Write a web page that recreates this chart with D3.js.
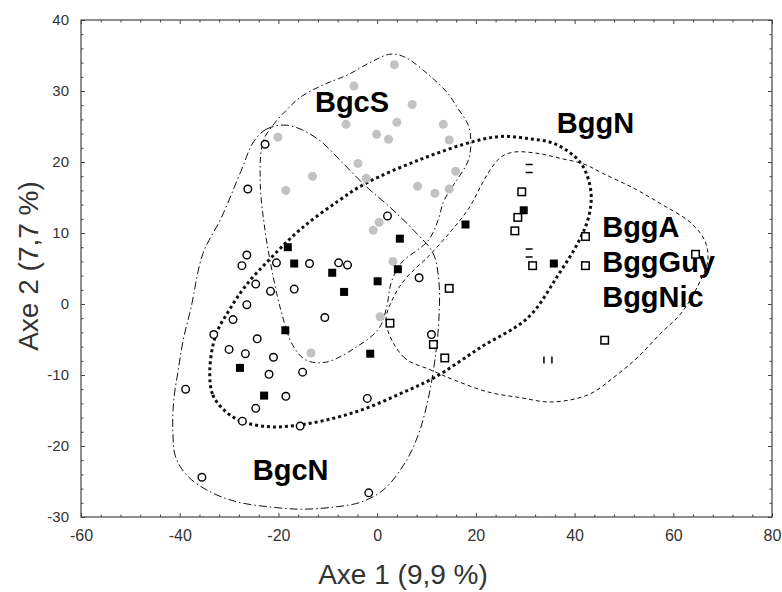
<!DOCTYPE html>
<html>
<head>
<meta charset="utf-8">
<script src="https://cdnjs.cloudflare.com/ajax/libs/d3/7.8.5/d3.min.js"></script>
<style>
  body { margin: 0; background: #fff; }
  text { font-family: "Liberation Sans", Arial, sans-serif; }
</style>
</head>
<body>
<script>
// points, [axe1, axe2]
const bgcN = [
  [-22.7, 22.5], [-26.2, 16.2], [2.1, 12.4], [-26.4, 6.9], [-27.4, 5.4], [-20.4, 5.8],
  [-13.7, 5.7], [-7.8, 5.8], [-6.0, 5.5], [-24.6, 2.8], [-21.6, 1.8], [-16.8, 2.1],
  [-26.4, -0.1], [-29.2, -2.2], [-10.6, -1.9], [-33.1, -4.3], [-24.3, -4.9], [-30.0, -6.4],
  [-26.7, -7.0], [-21.0, -7.5], [-15.1, -9.6], [-21.9, -9.9], [-38.8, -12.0], [-18.5, -13.0],
  [-2.0, -13.3], [-24.6, -14.7], [-27.3, -16.5], [-15.6, -17.2], [-35.5, -24.4], [-1.7, -26.6],
  [8.5, 3.7], [11.0, -4.3]
];
const bgcS = [
  [3.5, 33.7], [-4.7, 30.7], [7.1, 28.1], [4.0, 25.6], [13.4, 25.3], [-6.3, 25.3],
  [-0.1, 23.9], [2.3, 23.2], [14.6, 23.1], [-20.1, 23.5], [-3.9, 19.8], [-2.2, 17.7],
  [15.9, 18.7], [-13.1, 18.0], [-18.5, 16.0], [8.2, 16.6], [11.7, 15.6], [14.6, 16.2],
  [-0.8, 10.4], [0.4, 11.5], [3.2, 6.0], [0.6, -1.8], [-13.4, -6.9]
];
const bggN = [
  [-18.1, 8.0], [4.6, 9.2], [17.9, 11.2], [-16.8, 5.7], [-9.1, 4.4], [-6.7, 1.7],
  [0.1, 3.2], [4.2, 4.9], [-18.6, -3.7], [-1.4, -7.0], [-27.8, -9.0], [-22.9, -12.9],
  [29.7, 13.2], [35.8, 5.7]
];
const bggOpenSq = [
  [29.3, 15.8], [28.5, 12.2], [27.9, 10.3], [42.2, 9.5], [31.5, 5.4], [42.2, 5.4],
  [64.5, 7.0], [14.6, 2.2], [46.1, -5.1], [11.4, -5.7], [13.7, -7.6], [2.6, -2.7]
];
const bggHBars = [[30.8, 19.1], [30.8, 7.2]];
const bggVBars = [[34.6, -7.9]];

// group outlines, vertices
const hullBgcS = [
  [-23.1, 22.9], [-21.1, 25.2], [-18.1, 27.5], [-15.4, 29.2], [-10.8, 30.9], [-5.9, 32.3],
  [-1.2, 34.1], [2.8, 35.2], [5.8, 34.7], [10.9, 32.0], [14.4, 29.6], [16.4, 27.5],
  [18.4, 25.3], [19.0, 22.9], [18.4, 20.1], [15.6, 16.9], [13.5, 14.5], [12.3, 11.7],
  [10.3, 8.9], [4.8, 5.7], [2.8, 2.9], [2.0, -0.2], [0.4, -3.4], [-4.3, -6.1],
  [-10.4, -8.2], [-14.4, -7.9], [-17.1, -5.8], [-19.5, -0.9], [-21.3, 4.7], [-22.7, 10.3],
  [-23.7, 17.3]
];
const hullBgcN = [
  [-25.0, 22.9], [-22.5, 24.6], [-18.9, 25.2], [-15.4, 24.6], [-11.4, 22.9], [-7.3, 20.1],
  [-2.3, 16.6], [2.8, 13.5], [7.5, 10.3], [11.3, 7.2], [12.5, 3.3], [12.5, -2.3],
  [11.7, -7.9], [10.3, -13.5], [8.5, -18.1], [5.8, -22.2], [1.4, -26.1], [-3.3, -27.9],
  [-8.7, -28.6], [-15.4, -28.9], [-21.5, -28.6], [-28.2, -27.9], [-33.7, -26.5], [-38.3, -24.3],
  [-40.8, -21.6], [-41.4, -17.7], [-41.2, -13.5], [-40.3, -9.3], [-39.3, -5.1], [-37.7, -0.5],
  [-35.3, 7.1], [-31.6, 12.1], [-27.6, 18.7]
];
const hullBggA = [
  [1.8, -2.6], [5.4, -7.5], [10.9, -9.3], [15.6, -10.7], [22.5, -12.4], [29.1, -13.2],
  [35.2, -13.8], [42.7, -12.8], [48.0, -10.3], [52.8, -7.5], [57.5, -4.1], [61.6, -1.3],
  [65.0, 2.6], [67.0, 6.1], [66.4, 8.9], [63.6, 11.4], [57.5, 14.1], [52.0, 16.3],
  [46.0, 18.3], [41.9, 19.7], [37.2, 20.5], [32.6, 21.2], [27.7, 21.4], [25.1, 20.7],
  [23.1, 19.1], [21.0, 16.6], [18.6, 13.5], [15.0, 10.3], [10.5, 6.8], [5.8, 3.6],
  [3.2, 0.8]
];
const ellipseBggN = [
  [-33.9, -9.3], [-33.3, -12.8], [-30.6, -15.2], [-27.2, -16.6], [-21.5, -17.3], [-15.4, -17.0],
  [-8.3, -16.0], [-1.9, -14.6], [4.8, -12.6], [11.5, -10.4], [21.0, -6.1], [30.6, -1.9],
  [36.6, 4.0], [40.9, 8.9], [42.9, 12.4], [43.3, 15.9], [41.3, 19.8], [36.2, 22.5],
  [30.6, 23.3], [25.1, 23.6], [19.6, 22.9], [8.9, 20.4], [-2.3, 17.0], [-7.9, 14.5],
  [-15.4, 10.6], [-21.5, 6.5], [-26.6, 2.6], [-30.0, -0.9], [-32.7, -4.4]
];

const groupLabels = [
  { text: "BgcS", at: [-12.6, 27.0] },
  { text: "BggN", at: [36.4, 24.1] },
  { text: "BggA", at: [45.6, 9.4] },
  { text: "BggGuy", at: [45.6, 4.5] },
  { text: "BggNic", at: [45.6, -0.4] },
  { text: "BgcN", at: [-25.2, -24.8] }
];

const xMajor = [-60, -40, -20, 0, 20, 40, 60, 80];
const yMajor = [-30, -20, -10, 0, 10, 20, 30, 40];

const width = 782, height = 592;
const mLeft = 81, mRight = 772, mTop = 20, mBottom = 517;

const x = d3.scaleLinear().domain([-60, 80]).range([mLeft, mRight]);
const y = d3.scaleLinear().domain([-30, 40]).range([mBottom, mTop]);

const svg = d3.select("body").append("svg")
  .attr("width", width).attr("height", height);

// frame with inward ticks on all sides
const xMinor = d3.range(-60, 81, 4).filter(v => !xMajor.includes(v));
const yMinor = d3.range(-30, 41, 2).filter(v => !yMajor.includes(v));
const plain = d => String(d); // hyphen minus, like the original

const axisStyle = g => {
  g.select(".domain").remove();
  g.selectAll("line").attr("stroke", "#444").attr("stroke-width", 1);
  g.selectAll("text").attr("fill", "#333").style("font-size", "15px");
};

svg.append("g").attr("transform", `translate(0,${mBottom})`)
  .call(d3.axisBottom(x).tickValues(xMinor).tickSize(-2.5).tickFormat(""))
  .call(axisStyle);
svg.append("g").attr("transform", `translate(0,${mTop})`)
  .call(d3.axisTop(x).tickValues(xMinor).tickSize(-2.5).tickFormat(""))
  .call(axisStyle);
svg.append("g").attr("transform", `translate(${mLeft},0)`)
  .call(d3.axisLeft(y).tickValues(yMinor).tickSize(-2.5).tickFormat(""))
  .call(axisStyle);
svg.append("g").attr("transform", `translate(${mRight},0)`)
  .call(d3.axisRight(y).tickValues(yMinor).tickSize(-2.5).tickFormat(""))
  .call(axisStyle);

svg.append("g").attr("transform", `translate(0,${mBottom})`)
  .call(d3.axisBottom(x).tickValues(xMajor).tickSize(-4).tickPadding(13).tickFormat(plain))
  .call(axisStyle)
  .call(g => g.selectAll("text").style("font-size", "16px"));
svg.append("g").attr("transform", `translate(0,${mTop})`)
  .call(d3.axisTop(x).tickValues(xMajor).tickSize(-4).tickFormat(""))
  .call(axisStyle);
svg.append("g").attr("transform", `translate(${mLeft},0)`)
  .call(d3.axisLeft(y).tickValues(yMajor).tickSize(-4).tickPadding(12).tickFormat(plain))
  .call(axisStyle);
svg.append("g").attr("transform", `translate(${mRight},0)`)
  .call(d3.axisRight(y).tickValues(yMajor).tickSize(-4).tickFormat(""))
  .call(axisStyle);

svg.append("rect")
  .attr("x", mLeft).attr("y", mTop)
  .attr("width", mRight - mLeft).attr("height", mBottom - mTop)
  .attr("fill", "none").attr("stroke", "#444").attr("stroke-width", 1.2);

// axis titles
svg.append("text")
  .attr("x", 403).attr("y", 584)
  .attr("text-anchor", "middle")
  .attr("fill", "#333")
  .style("font-size", "28px")
  .text("Axe 1 (9,9 %)");
svg.append("text")
  .attr("transform", "translate(38,266) rotate(-90)")
  .attr("text-anchor", "middle")
  .attr("fill", "#333")
  .style("font-size", "28px")
  .text("Axe 2 (7,7 %)");

// outlines
const outline = d3.line()
  .x(d => x(d[0])).y(d => y(d[1]))
  .curve(d3.curveCatmullRomClosed.alpha(0.5));

const outlines = [
  { pts: hullBgcS, dash: "6,3,1.5,3", w: 1 },
  { pts: hullBgcN, dash: "8,3,1.5,3", w: 1 },
  { pts: hullBggA, dash: "4,3", w: 1 },
  { pts: ellipseBggN, dash: "3,3", w: 3 }
];

svg.append("g").selectAll("path")
  .data(outlines)
  .join("path")
  .attr("d", d => outline(d.pts))
  .attr("fill", "none")
  .attr("stroke", "#111")
  .attr("stroke-width", d => d.w)
  .attr("stroke-dasharray", d => d.dash);

// group names
svg.append("g").selectAll("text")
  .data(groupLabels)
  .join("text")
  .attr("x", d => x(d.at[0]))
  .attr("y", d => y(d.at[1]))
  .attr("fill", "#000")
  .style("font-size", "29px")
  .style("font-weight", "bold")
  .text(d => d.text);

// markers
const pts = svg.append("g");

pts.selectAll("circle.s")
  .data(bgcS)
  .join("circle")
  .attr("class", "s")
  .attr("cx", d => x(d[0])).attr("cy", d => y(d[1]))
  .attr("r", 4.5)
  .attr("fill", "#c2c2c2");

pts.selectAll("circle.n")
  .data(bgcN)
  .join("circle")
  .attr("class", "n")
  .attr("cx", d => x(d[0])).attr("cy", d => y(d[1]))
  .attr("r", 3.8)
  .attr("fill", "#fff")
  .attr("stroke", "#000")
  .attr("stroke-width", 1.4);

const sq = 7.5;
pts.selectAll("rect.a")
  .data(bggOpenSq)
  .join("rect")
  .attr("class", "a")
  .attr("x", d => x(d[0]) - sq / 2).attr("y", d => y(d[1]) - sq / 2)
  .attr("width", sq).attr("height", sq)
  .attr("fill", "#fff")
  .attr("stroke", "#000")
  .attr("stroke-width", 1.5);

pts.selectAll("rect.b")
  .data(bggN)
  .join("rect")
  .attr("class", "b")
  .attr("x", d => x(d[0]) - 4).attr("y", d => y(d[1]) - 4)
  .attr("width", 8).attr("height", 8)
  .attr("fill", "#000");

pts.selectAll("path.h")
  .data(bggHBars)
  .join("path")
  .attr("class", "h")
  .attr("d", d => {
    const cx = x(d[0]), cy = y(d[1]);
    return `M${cx - 3.5},${cy - 4}h7M${cx - 3.5},${cy + 4}h7`;
  })
  .attr("stroke", "#000").attr("stroke-width", 1.5);

pts.selectAll("path.v")
  .data(bggVBars)
  .join("path")
  .attr("class", "v")
  .attr("d", d => {
    const cx = x(d[0]), cy = y(d[1]);
    return `M${cx - 4},${cy - 3.5}v7M${cx + 4},${cy - 3.5}v7`;
  })
  .attr("stroke", "#000").attr("stroke-width", 1.5);
</script>
</body>
</html>
